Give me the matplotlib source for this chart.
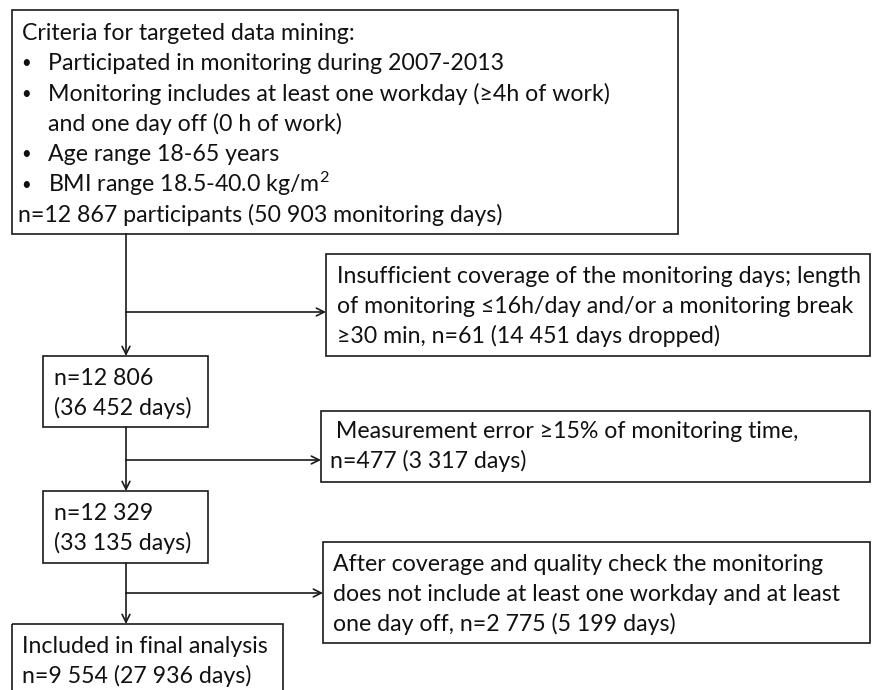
import matplotlib
matplotlib.use("Agg")
import matplotlib.pyplot as plt
from matplotlib.patches import Rectangle

plt.rcParams['font.family'] = ['Lato', 'DejaVu Sans']
plt.rcParams['mathtext.fontset'] = 'custom'
plt.rcParams['mathtext.rm'] = 'Lato'
plt.rcParams['mathtext.default'] = 'regular'

# ---- data ----
participants = [12867, 12806, 12329, 9554]
days = [50903, 36452, 33135, 27936]
excluded_n = [61, 477, 2775]
excluded_days = [14451, 3317, 5199]

def fmt(v):
    return f"{v:,}".replace(",", " ")

criteria_title = "Criteria for targeted data mining:"
criteria_items = [
    ["Participated in monitoring during 2007-2013"],
    ["Monitoring includes at least one workday (≥4h of work)", "and one day off (0 h of work)"],
    ["Age range 18-65 years"],
    ["BMI range 18.5-40.0 kg/m$^{2}$"],
]
start_line = f"n={fmt(participants[0])} participants ({fmt(days[0])} monitoring days)"

excl_texts = [
    ["Insufficient coverage of the monitoring days; length",
     "of monitoring ≤16h/day and/or a monitoring break",
     f"≥30 min, n={excluded_n[0]} ({fmt(excluded_days[0])} days dropped)"],
    [" Measurement error ≥15% of monitoring time,",
     f"n={excluded_n[1]} ({fmt(excluded_days[1])} days)"],
    ["After coverage and quality check the monitoring",
     "does not include at least one workday and at least",
     f"one day off, n={fmt(excluded_n[2])} ({fmt(excluded_days[2])} days)"],
]
mid_texts = [
    [f"n={fmt(participants[1])}", f"({fmt(days[1])} days)"],
    [f"n={fmt(participants[2])}", f"({fmt(days[2])} days)"],
]
final_text = ["Included in final analysis",
              f"n={fmt(participants[3])} ({fmt(days[3])} days)"]

# ---- figure ----
W, H = 876, 690
fig = plt.figure(figsize=(W / 100, H / 100), dpi=100)
ax = fig.add_axes([0, 0, 1, 1])
ax.set_xlim(0, W)
ax.set_ylim(H, 0)
ax.axis('off')

FS = 16.7
TC = '#111111'
LC = '#1a1a1a'
LW = 1.2
XR = 870

def box(x0, y0, x1, y1):
    ax.add_patch(Rectangle((x0, y0), x1 - x0, y1 - y0, fill=False,
                           edgecolor=LC, linewidth=LW, clip_on=False))

def txt(x, y, s, fs=FS):
    ax.text(x, y, s, fontsize=fs, color=TC, va='baseline', ha='left')

def arrow(x0, y0, x1, y1):
    ax.annotate('', xy=(x1, y1), xytext=(x0, y0),
                arrowprops=dict(arrowstyle='->', color=LC, lw=LW,
                                shrinkA=0, shrinkB=0, mutation_scale=14))

# Box 1: criteria
box(12, 10, 678, 234)
ls = 30.3
y = 40
txt(22, y, criteria_title)
for item in criteria_items:
    for j, line in enumerate(item):
        y += ls
        if j == 0:
            txt(21, y - 2, "•", fs=12)
        txt(48, y, line)
y += ls
txt(18, y, start_line)

# Main vertical flow x
xc = 126

# Exclusion 1
box(326, 254, XR, 356)
for k, line in enumerate(excl_texts[0]):
    txt(337, 283 + 30 * k, line)
ax.plot([xc, xc], [234, 312], color=LC, lw=LW)
arrow(xc, 312, 326, 312)
arrow(xc, 312, xc, 356)

# Mid box 1
box(43, 356, 208, 427)
for k, line in enumerate(mid_texts[0]):
    txt(54, 385 + 30 * k, line)

# Exclusion 2
box(321, 411, XR, 482)
for k, line in enumerate(excl_texts[1]):
    txt(330, 438 + 30 * k, line)
ax.plot([xc, xc], [427, 460], color=LC, lw=LW)
arrow(xc, 460, 321, 460)
arrow(xc, 460, xc, 491)

# Mid box 2
box(43, 491, 208, 563)
for k, line in enumerate(mid_texts[1]):
    txt(54, 520 + 30 * k, line)

# Exclusion 3
box(323, 542, XR, 643)
for k, line in enumerate(excl_texts[2]):
    txt(333, 571 + 30 * k, line)
ax.plot([xc, xc], [563, 593], color=LC, lw=LW)
arrow(xc, 593, 323, 593)
arrow(xc, 593, xc, 624)

# Final box
box(12, 624, 283, 700)
for k, line in enumerate(final_text):
    txt(22, 653 + 30 * k, line)

fig.savefig("out.png", dpi=100, facecolor='white')
